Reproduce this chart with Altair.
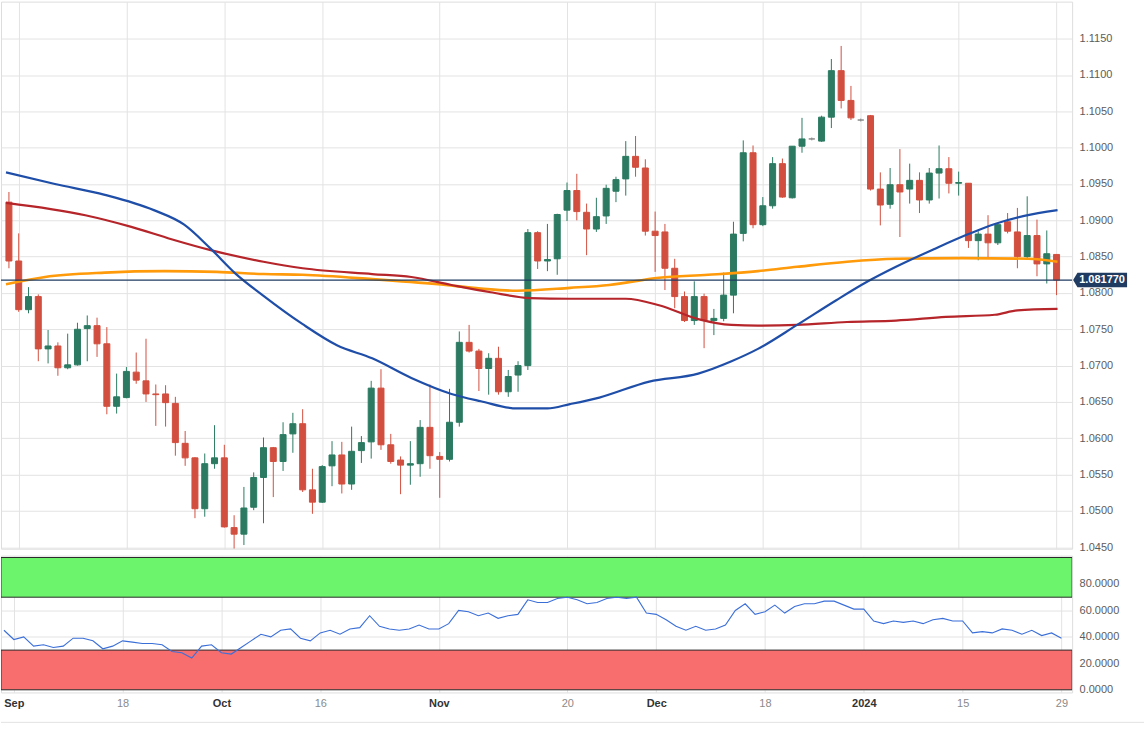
import altair as alt
import pandas as pd

# ---------------- data (EUR/USD daily, 31 Aug 2023 - 29 Jan 2024, weekdays) ----------------
opens = [1.0925, 1.0844, 1.0777, 1.0795, 1.0723, 1.0727, 1.0697, 1.0701, 1.0751, 1.0755,
         1.0730, 1.0644, 1.0656, 1.0691, 1.0679, 1.0661, 1.0661, 1.0648, 1.0593, 1.0573,
         1.0503, 1.0565, 1.0573, 1.0477, 1.0468, 1.0505, 1.0546, 1.0587, 1.0568, 1.0606,
         1.0620, 1.0529, 1.0512, 1.0562, 1.0577, 1.0537, 1.0583, 1.0595, 1.0669, 1.0591,
         1.0570, 1.0563, 1.0565, 1.0615, 1.0575, 1.0571, 1.0622, 1.0732, 1.0720, 1.0696,
         1.0710, 1.0664, 1.0687, 1.0700, 1.0883, 1.0844, 1.0847, 1.0914, 1.0941, 1.0911,
         1.0888, 1.0906, 1.0940, 1.0957, 1.0988, 1.0972, 1.0885, 1.0884, 1.0834, 1.0795,
         1.0762, 1.0795, 1.0762, 1.0765, 1.0797, 1.0882, 1.0993, 1.0894, 1.0920, 1.0978,
         1.0931, 1.1002, 1.1012, 1.1009, 1.1042, 1.1106, 1.1065, 1.1038, 1.1044, 1.0943,
         1.0922, 1.0949, 1.0943, 1.0955, 1.0928, 1.0965, 1.0971, 1.0951, 1.0951, 1.0872,
         1.0881, 1.0869, 1.0898, 1.0884, 1.0850, 1.0879, 1.0840, 1.0853]
highs = [1.0939, 1.0882, 1.0808, 1.0798, 1.0749, 1.0732, 1.0744, 1.0759, 1.0769, 1.0766,
         1.0753, 1.0689, 1.0698, 1.0718, 1.0737, 1.0674, 1.0673, 1.0657, 1.0610, 1.0574,
         1.0579, 1.0618, 1.0591, 1.0494, 1.0533, 1.0553, 1.0601, 1.0588, 1.0622, 1.0635,
         1.0640, 1.0558, 1.0563, 1.0596, 1.0595, 1.0616, 1.0603, 1.0679, 1.0695, 1.0606,
         1.0575, 1.0596, 1.0625, 1.0674, 1.0581, 1.0668, 1.0747, 1.0756, 1.0723, 1.0717,
         1.0726, 1.0694, 1.0706, 1.0888, 1.0885, 1.0895, 1.0909, 1.0952, 1.0964, 1.0923,
         1.0931, 1.0949, 1.0960, 1.1009, 1.1016, 1.0984, 1.0912, 1.0895, 1.0847, 1.0802,
         1.0816, 1.0799, 1.0778, 1.0828, 1.0898, 1.1010, 1.1003, 1.0932, 1.0987, 1.0985,
         1.1002, 1.1041, 1.1014, 1.1044, 1.1122, 1.1140, 1.1085, 1.1040, 1.1045, 1.0966,
         1.0972, 1.0998, 1.0978, 1.0966, 1.0972, 1.1003, 1.0987, 1.0967, 1.0951, 1.0885,
         1.0907, 1.0895, 1.0910, 1.0917, 1.0933, 1.0901, 1.0886, 1.0853]
lows = [1.0834, 1.0774, 1.0772, 1.0706, 1.0703, 1.0686, 1.0695, 1.0700, 1.0706, 1.0712,
        1.0633, 1.0634, 1.0655, 1.0675, 1.0650, 1.0617, 1.0616, 1.0576, 1.0562, 1.0490,
        1.0492, 1.0558, 1.0477, 1.0448, 1.0453, 1.0501, 1.0483, 1.0519, 1.0555, 1.0580,
        1.0526, 1.0496, 1.0511, 1.0534, 1.0524, 1.0529, 1.0566, 1.0572, 1.0584, 1.0565,
        1.0523, 1.0536, 1.0547, 1.0558, 1.0518, 1.0568, 1.0616, 1.0718, 1.0665, 1.0660,
        1.0660, 1.0657, 1.0664, 1.0694, 1.0833, 1.0830, 1.0825, 1.0899, 1.0900, 1.0852,
        1.0884, 1.0895, 1.0925, 1.0934, 1.0960, 1.0879, 1.0829, 1.0804, 1.0779, 1.0760,
        1.0756, 1.0724, 1.0742, 1.0761, 1.0772, 1.0871, 1.0889, 1.0892, 1.0916, 1.0931,
        1.0930, 1.0993, 1.1010, 1.1008, 1.1027, 1.1054, 1.1038, 1.1036, 1.0941, 1.0893,
        1.0916, 1.0877, 1.0923, 1.0910, 1.0923, 1.0930, 1.0937, 1.0934, 1.0862, 1.0845,
        1.0847, 1.0866, 1.0882, 1.0834, 1.0846, 1.0823, 1.0813, 1.0797]
closes = [1.0844, 1.0777, 1.0795, 1.0723, 1.0727, 1.0697, 1.0701, 1.0750, 1.0755, 1.0730,
          1.0644, 1.0657, 1.0692, 1.0680, 1.0661, 1.0660, 1.0649, 1.0594, 1.0573, 1.0503,
          1.0565, 1.0573, 1.0478, 1.0468, 1.0504, 1.0546, 1.0587, 1.0568, 1.0605, 1.0620,
          1.0529, 1.0512, 1.0561, 1.0577, 1.0537, 1.0582, 1.0594, 1.0669, 1.0591, 1.0568,
          1.0563, 1.0565, 1.0615, 1.0576, 1.0571, 1.0622, 1.0732, 1.0720, 1.0696, 1.0710,
          1.0664, 1.0685, 1.0700, 1.0883, 1.0844, 1.0846, 1.0908, 1.0941, 1.0912, 1.0888,
          1.0905, 1.0944, 1.0956, 1.0988, 1.0973, 1.0885, 1.0879, 1.0834, 1.0795, 1.0762,
          1.0795, 1.0762, 1.0765, 1.0797, 1.0881, 1.0993, 1.0894, 1.0920, 1.0978, 1.0932,
          1.1002, 1.1012, 1.1012, 1.1042, 1.1106, 1.1065, 1.1041, 1.1038, 1.0943, 1.0921,
          1.0949, 1.0939, 1.0955, 1.0928, 1.0965, 1.0971, 1.0951, 1.0952, 1.0872, 1.0881,
          1.0869, 1.0894, 1.0885, 1.0850, 1.0879, 1.0840, 1.0854, 1.08177]

rsi_vals = [45, 38, 40, 33, 34, 32, 33, 39, 39, 37,
            31, 33, 37, 36, 35, 35, 34, 29, 28, 24,
            33, 34, 28, 27, 32, 37, 42, 40, 45, 46,
            39, 37, 43, 45, 42, 46, 47, 56, 48, 46,
            45, 46, 49, 46, 46, 50, 60, 59, 56, 58,
            54, 56, 57, 68, 66, 66, 69, 70, 68, 65,
            66, 69, 70, 69, 70, 58, 57, 53, 48, 45,
            48, 45, 46, 49, 60, 65, 57, 59, 64, 58,
            63, 65, 65, 67, 67, 64, 61, 61, 52, 50,
            52, 51, 52, 50, 53, 54, 52, 52, 43, 44,
            43, 46, 45, 42, 45, 41, 43, 39]

# moving averages read at sampled positions (candle index, price)
sma50_idx = [-0.3, 4.7, 9.8, 14.8, 17.9, 20.6, 23.2, 26.0, 30.0, 33.5, 37.1, 41.1, 45.2, 48.2,
             51.9, 55.0, 57.3, 60.3, 65.4, 70.4, 73.8, 76.5, 80.5, 84.5, 87.6, 90.6, 94.6,
             98.0, 100.7, 103.7, 107.1]
sma50_val = [1.0966, 1.0950, 1.0935, 1.0914, 1.0894, 1.0861, 1.0826, 1.0796, 1.0757, 1.0728,
             1.0710, 1.0683, 1.0661, 1.0651, 1.0641, 1.0641, 1.0647, 1.0656, 1.0678, 1.0689,
             1.0706, 1.0723, 1.0756, 1.0790, 1.0815, 1.0836, 1.0861, 1.0881, 1.0895, 1.0906,
             1.0914]
sma100_idx = [-0.3, 7.8, 12.5, 16.6, 20.6, 26.0, 30.0, 37.1, 41.1, 45.2, 49.2, 53.2, 57.3,
              63.0, 66.4, 70.4, 73.8, 76.5, 80.5, 85.6, 90.6, 95.7, 100.7, 103.0, 107.1]
sma100_val = [1.0924, 1.0907, 1.0891, 1.0874, 1.0859, 1.0843, 1.0834, 1.0826, 1.0822, 1.0811,
              1.0801, 1.0793, 1.0792, 1.0792, 1.0783, 1.0764, 1.0756, 1.0755, 1.0756, 1.0760,
              1.0762, 1.0767, 1.0770, 1.0776, 1.0778]
sma200_idx = [-0.3, 3.7, 9.8, 15.9, 21.2, 26.0, 30.0, 37.1, 43.8, 48.2, 51.9, 57.3, 61.3,
              66.4, 71.4, 76.5, 80.5, 85.6, 90.6, 97.4, 104.1, 107.1]
sma200_val = [1.0812, 1.0822, 1.0828, 1.0830, 1.0829, 1.0826, 1.0825, 1.0819, 1.0812, 1.0806,
              1.0803, 1.0807, 1.0811, 1.0821, 1.0825, 1.0830, 1.0836, 1.0843, 1.0847, 1.0848,
              1.0847, 1.0843]

tick_idx = [1, 12, 22, 32, 44, 57, 66, 77, 87, 97, 107]
tick_text = ["Sep", "18", "Oct", "16", "Nov", "20", "Dec", "18", "2024", "15", "29"]
bold_ticks = [1, 22, 44, 66, 87]
price_ticks = [1.045, 1.050, 1.055, 1.060, 1.065, 1.070, 1.075, 1.080, 1.085, 1.090,
               1.095, 1.100, 1.105, 1.110, 1.115]
rsi_ticks = [0, 20, 40, 60, 80]
last_price = 1.08177
last_label = "1.081770"

# ---------------- tables ----------------
n = len(opens)
df = pd.DataFrame({"i": list(range(n)), "open": opens, "high": highs,
                   "low": lows, "close": closes})
df["dir"] = ["up" if c > o else ("down" if c < o else "flat") for o, c in zip(opens, closes)]
ma50 = pd.DataFrame({"i": sma50_idx, "v": sma50_val})
ma100 = pd.DataFrame({"i": sma100_idx, "v": sma100_val})
ma200 = pd.DataFrame({"i": sma200_idx, "v": sma200_val})
rsi_df = pd.DataFrame({"i": list(range(n)), "rsi": rsi_vals})
band_df = pd.DataFrame({"lo": [70, 0], "hi": [100, 30], "zone": ["ob", "os"]})
last_df = pd.DataFrame({"p": [last_price], "t": [last_label]})

# ---------------- styling ----------------
W = 1073
GRID = "#e3e3e3"
FONT = "Liberation Sans, Arial, sans-serif"
NARROW = "Liberation Sans Narrow, Arial Narrow, Liberation Sans, sans-serif"

xs = alt.Scale(domain=[-0.3, 108.08], nice=False, zero=False)
ys = alt.Scale(domain=[1.0448, 1.1201], nice=False, zero=False)
rs = alt.Scale(domain=[-2, 101.4], nice=False, zero=False)
cscale = alt.Scale(domain=["up", "down", "flat"], range=["#2b7a61", "#d24f3f", "#8a8a8a"])

x_main_axis = alt.Axis(values=tick_idx, labels=False, ticks=False, domain=False, grid=True,
                       gridColor=GRID, title=None)
y_main_axis = alt.Axis(orient="right", values=price_ticks, format=".4f", ticks=False,
                       domain=False, grid=True, gridColor=GRID, labelFont=FONT,
                       labelFontSize=11, labelColor="#5c5c5c", labelPadding=7, title=None)

label_expr = " : ".join(f"datum.value == {t} ? '{s}'" for t, s in zip(tick_idx, tick_text)) + " : ''"
bold_test = " || ".join(f"datum.value == {t}" for t in bold_ticks)
x_rsi_axis = alt.Axis(values=tick_idx, labelExpr=label_expr, ticks=False, domain=False,
                      grid=True, gridColor=GRID, labelFont=NARROW, labelFontSize=11,
                      labelPadding=5, labelOverlap=False, labelFlush=False, title=None,
                      labelFontWeight={"condition": {"test": bold_test, "value": "bold"},
                                       "value": "normal"},
                      labelColor={"condition": {"test": bold_test, "value": "#333333"},
                                  "value": "#8a8a8a"})
y_rsi_axis = alt.Axis(orient="right", values=rsi_ticks, format=".4f", ticks=False,
                      domain=False, grid=True, gridColor=GRID, labelFont=FONT,
                      labelFontSize=11, labelColor="#5c5c5c", labelPadding=7, title=None)

X = alt.X("i:Q", scale=xs, axis=x_main_axis)

wicks = alt.Chart(df).mark_rule(strokeWidth=1, clip=True).encode(
    x=X,
    y=alt.Y("low:Q", scale=ys, axis=y_main_axis),
    y2="high:Q",
    color=alt.Color("dir:N", scale=cscale, legend=None),
)
bodies = alt.Chart(df).mark_bar(size=6, strokeWidth=1, clip=True).encode(
    x=X,
    y=alt.Y("open:Q", scale=ys, axis=y_main_axis),
    y2="close:Q",
    color=alt.Color("dir:N", scale=cscale, legend=None),
    stroke=alt.Stroke("dir:N", scale=cscale, legend=None),
)


def ma_line(d, color, w):
    return alt.Chart(d).mark_line(clip=True, strokeWidth=w, color=color,
                                  interpolate="monotone").encode(
        x=X, y=alt.Y("v:Q", scale=ys, axis=y_main_axis))


l50 = ma_line(ma50, "#1f4ea8", 2.2)
l100 = ma_line(ma100, "#b5252a", 2.2)
l200 = ma_line(ma200, "#ff9a0a", 2.6)

price_rule = alt.Chart(last_df).mark_rule(color="#1f3b61", strokeWidth=1.2, clip=True).encode(
    y=alt.Y("p:Q", scale=ys, axis=y_main_axis))
tag = alt.Chart(last_df).mark_point(
    shape="M -1 0 L -0.84 -0.27 L 1 -0.27 L 1 0.27 L -0.84 0.27 Z",
    size=2916, filled=True, opacity=1, color="#1f3b61", strokeWidth=0).encode(
    x=alt.value(1101), y=alt.Y("p:Q", scale=ys, axis=y_main_axis))
tag_text = alt.Chart(last_df).mark_text(color="white", fontWeight="bold", fontSize=11,
                                        font=FONT, align="center", baseline="middle").encode(
    x=alt.value(1103), y=alt.Y("p:Q", scale=ys, axis=y_main_axis), text="t:N")

main = alt.layer(wicks, bodies, l200, l100, l50, price_rule, tag, tag_text).properties(
    width=W, height=548)

XR = alt.X("i:Q", scale=xs, axis=x_rsi_axis)
bands = alt.Chart(band_df).mark_rect(stroke="#2a2a2a", strokeWidth=1, clip=True).encode(
    x=alt.value(0), x2=alt.value(W),
    y=alt.Y("lo:Q", scale=rs, axis=y_rsi_axis), y2="hi:Q",
    fill=alt.Fill("zone:N", scale=alt.Scale(domain=["ob", "os"],
                                            range=["#6df46d", "#f86e6e"]), legend=None),
)
rsi_line = alt.Chart(rsi_df).mark_line(color="#3b6fd8", strokeWidth=1.1, clip=True).encode(
    x=XR, y=alt.Y("rsi:Q", scale=rs, axis=y_rsi_axis))
sep = alt.Chart(last_df).mark_rule(color="#e2e2e2", strokeWidth=1).encode(
    x=alt.value(0), x2=alt.value(1145), y=alt.value(167))

rsi = alt.layer(bands, rsi_line, sep).properties(width=W, height=137)

chart = alt.vconcat(main, rsi, spacing=1).properties(
    padding={"left": 0, "top": 0, "right": 0, "bottom": 0}
).configure_view(fill="#f5f5f5", stroke="#dfe3ea").configure(background="white")

chart.save("out.html", embed_options={"renderer": "svg", "actions": False})
